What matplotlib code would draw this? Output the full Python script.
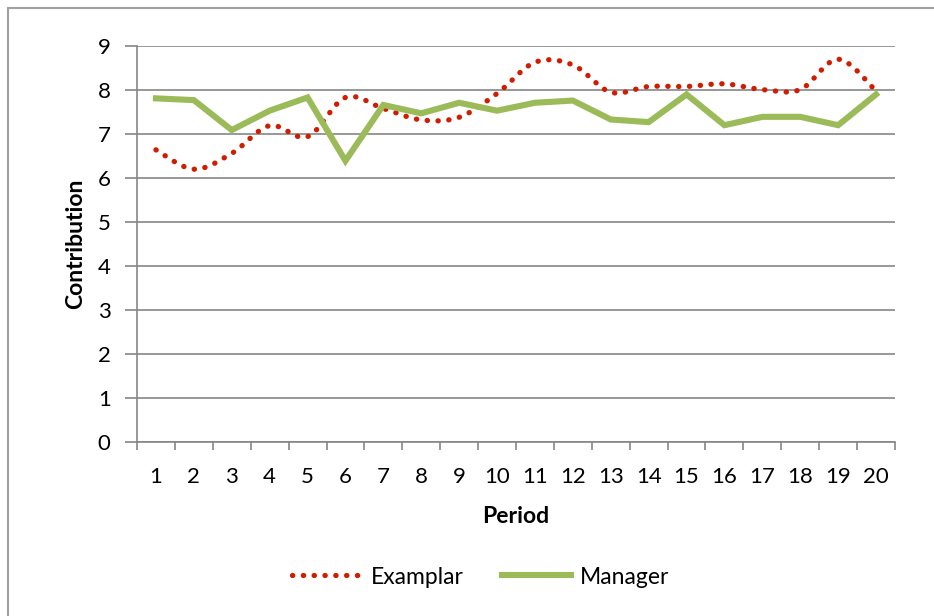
import numpy as np
import matplotlib
matplotlib.use('Agg')
from matplotlib import pyplot as plt
from matplotlib.patches import Rectangle

plt.rcParams['font.family'] = ['Lato', 'DejaVu Sans']

periods = list(range(1, 21))
examplar = [6.64, 6.20, 6.56, 7.19, 6.94, 7.83, 7.58, 7.32, 7.38, 7.92,
            8.63, 8.57, 7.95, 8.08, 8.08, 8.14, 8.01, 8.01, 8.70, 7.98]
manager = [7.81, 7.77, 7.09, 7.53, 7.83, 6.39, 7.66, 7.47, 7.71, 7.53,
           7.71, 7.76, 7.33, 7.27, 7.90, 7.20, 7.39, 7.39, 7.20, 7.90]


def smooth(x, y, n=20):
    # excel-like smoothed line (bezier through points, catmull-rom controls)
    x = np.asarray(x, float)
    y = np.asarray(y, float)
    px = np.concatenate([[x[0]], x, [x[-1]]])
    py = np.concatenate([[y[0]], y, [y[-1]]])
    xs, ys = [], []
    t = np.linspace(0, 1, n)
    for i in range(1, len(px) - 2):
        p0 = np.array([px[i], py[i]])
        p3 = np.array([px[i + 1], py[i + 1]])
        p1 = p0 + (np.array([px[i + 1], py[i + 1]]) - np.array([px[i - 1], py[i - 1]])) / 6
        p2 = p3 - (np.array([px[i + 2], py[i + 2]]) - np.array([px[i], py[i]])) / 6
        b = ((1 - t) ** 3)[:, None] * p0 + (3 * (1 - t) ** 2 * t)[:, None] * p1 \
            + (3 * (1 - t) * t ** 2)[:, None] * p2 + (t ** 3)[:, None] * p3
        xs.extend(b[:, 0])
        ys.extend(b[:, 1])
    return xs, ys


fig = plt.figure(figsize=(9.34, 6.16), dpi=100)
ax = fig.add_axes([137 / 934, 1 - 442 / 616, (895 - 137) / 934, (442 - 46) / 616])

grey = '#868686'
sx, sy = smooth(periods, examplar)
ax.plot(sx, sy, color='#D01C00', lw=3.8, linestyle=(0, (0.05, 2.0)),
        dash_capstyle='round', label='Examplar', zorder=3)
ax.plot(periods, manager, color='#9BBB59', lw=4.4, solid_joinstyle='miter',
        label='Manager', zorder=4)

ax.set_xlim(0.5, 20.5)
ax.set_ylim(0, 9)
ax.set_yticks(range(0, 10))
ax.grid(axis='y', color=grey, lw=1.2)
ax.set_axisbelow(True)
ax.set_xticks(periods)
ax.set_xticks(np.arange(0.5, 21, 1), minor=True)
ax.tick_params(axis='x', which='major', length=0, pad=18, labelsize=16)
ax.tick_params(axis='x', which='minor', length=6, color=grey, width=1.2)
ax.tick_params(axis='y', length=9, color=grey, width=1.2, pad=10, labelsize=16)
for s in ['top', 'right']:
    ax.spines[s].set_visible(False)
for s in ['left', 'bottom']:
    ax.spines[s].set_color(grey)
    ax.spines[s].set_linewidth(1.2)

ax.set_xlabel('Period', fontsize=16.5, fontweight='bold', labelpad=14)
ax.set_ylabel('Contribution', fontsize=16.5, fontweight='bold', labelpad=8)

fig.legend(loc='center', bbox_to_anchor=(0.515, 1 - 577 / 616), ncol=2, frameon=False,
           fontsize=16.5, handlelength=3.0, handletextpad=0.4, columnspacing=1.7)

fig.patches.append(Rectangle((8 / 934, -0.1), 1.2, 1 - 8 / 616 + 0.1, transform=fig.transFigure,
                             fill=False, edgecolor='#A0A0A0', lw=1.5))

fig.savefig('out.png', dpi=100)
